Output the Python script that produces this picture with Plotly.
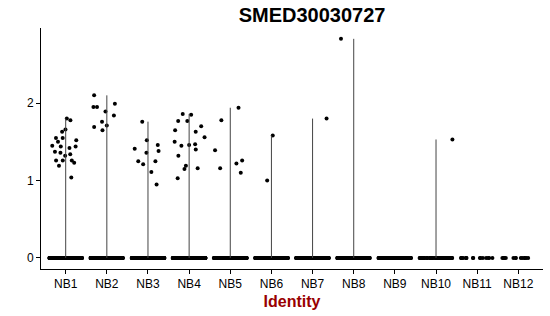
import plotly.graph_objects as go

# ---- data ----
categories = ["NB1", "NB2", "NB3", "NB4", "NB5", "NB6",
              "NB7", "NB8", "NB9", "NB10", "NB11", "NB12"]

nb1_expr = [1.78, 1.80, 1.66, 1.63, 1.45, 1.42, 1.52, 1.55, 1.55, 1.50, 1.44,
            1.44, 1.37, 1.34, 1.32, 1.36, 1.26, 1.26, 1.26, 1.23, 1.19, 1.04]
nb2_expr = [1.95, 1.95, 2.10, 1.99, 1.89, 1.84, 1.76, 1.71, 1.69, 1.65]
nb3_expr = [1.76, 1.46, 1.36, 1.25, 1.11, 0.95, 1.41, 1.38, 1.21, 1.52, 1.25]
nb4_expr = [1.77, 1.70, 1.86, 1.85, 1.77, 1.63, 1.65, 1.56, 1.50, 1.46, 1.45,
            1.47, 1.40, 1.32, 1.19, 1.15, 1.16, 1.03]
nb5_expr = [1.78, 1.94, 1.39, 1.26, 1.22, 1.16, 1.10]
nb6_expr = [1.58, 1.00]
nb7_expr = [1.80]
nb8_expr = [2.83]
nb9_expr = []
nb10_expr = [1.53]
nb11_expr = []
nb12_expr = []

# number of cells with zero expression per identity (estimated)
zero_counts = [220, 260, 220, 220, 220, 160, 190, 170, 110, 60, 16, 13]

expr_lists = [nb1_expr, nb2_expr, nb3_expr, nb4_expr, nb5_expr, nb6_expr,
              nb7_expr, nb8_expr, nb9_expr, nb10_expr, nb11_expr, nb12_expr]

# ---- build traces ----
zx, zy = [], []
for cat, n in zip(categories, zero_counts):
    zx += [cat] * n
    zy += [0] * n

px_, py_ = [], []
for cat, vals in zip(categories, expr_lists):
    px_ += [cat] * len(vals)
    py_ += vals

lx, ly = [], []
for cat, vals in zip(categories, expr_lists):
    if vals:
        lx += [cat, cat, None]
        ly += [0, max(vals), None]

fig = go.Figure()

fig.add_trace(go.Scatter(
    x=lx, y=ly, mode="lines",
    line=dict(color="#444444", width=1),
    hoverinfo="skip", showlegend=False))

box_common = dict(
    boxpoints="all", jitter=0.8, pointpos=0,
    fillcolor="rgba(0,0,0,0)",
    line=dict(width=0, color="rgba(0,0,0,0)"),
    whiskerwidth=0,
    marker=dict(color="black", size=4, line=dict(width=0)),
    showlegend=False, hoveron="points")

fig.add_trace(go.Box(x=zx, y=zy, **box_common))
fig.add_trace(go.Box(x=px_, y=py_, **box_common))

font_family = "Liberation Sans, Arial, sans-serif"

fig.update_layout(
    width=550, height=316,
    margin=dict(l=41, r=7, t=28, b=47),
    paper_bgcolor="white", plot_bgcolor="white",
    boxmode="overlay", boxgap=0, boxgroupgap=0,
    font=dict(family=font_family, size=12, color="black"),
    title=dict(text="<b>SMED30030727</b>",
               font=dict(family=font_family, size=20, color="black"),
               x=297 / 550, xanchor="center", xref="paper",
               y=1 - 15 / 316, yanchor="middle", yref="container"),
    xaxis=dict(
        type="category", categoryorder="array", categoryarray=categories,
        range=[-0.6, len(categories) - 0.4],
        showline=True, linecolor="black", linewidth=1,
        ticks="outside", ticklen=4, tickcolor="black", tickwidth=1,
        showgrid=False, zeroline=False,
        tickfont=dict(size=12, color="black"),
        title=dict(text="<b>Identity</b>", standoff=5,
                   font=dict(family=font_family, size=16, color="#990000"))),
    yaxis=dict(
        range=[-0.143, 2.97],
        tickvals=[0, 1, 2], ticktext=["0", "1", "2"],
        showline=True, linecolor="black", linewidth=1,
        ticks="outside", ticklen=4, tickcolor="black", tickwidth=1,
        showgrid=False, zeroline=False,
        tickfont=dict(size=12, color="black")),
)

fig.write_html("out.html")
